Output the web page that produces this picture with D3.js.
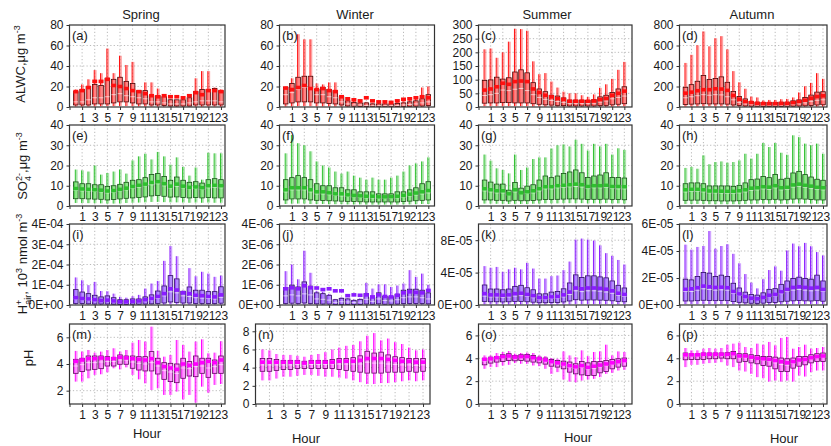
<!DOCTYPE html>
<html>
<head>
<meta charset="utf-8">
<script src="https://cdn.jsdelivr.net/npm/d3@7"></script>
<style>
  body { margin: 0; background: #fff; }
  svg text { font-family: "Liberation Sans", Arial, sans-serif; fill: #1a1a1a; }
</style>
</head>
<body>
<svg id="chart" width="831" height="446"></svg>
<script>
// ---------- categories ----------
const hours = [0,1,2,3,4,5,6,7,8,9,10,11,12,13,14,15,16,17,18,19,20,21,22,23];
const hourTicks = [-1,1,3,5,7,9,11,13,15,17,19,21,23];
const seasons = ["Spring", "Winter", "Summer", "Autumn"];
const letters = [["a","b","c","d"],["e","f","g","h"],["i","j","k","l"],["m","n","o","p"]];

// ---------- ALWC (µg m-3) ----------
const alwcSpring = {
  hi:   [17,22,27,36,33,57,33,50,41,44,16,24,24,18,12,8,7,10,11,28,35,35,19,17],
  q3:   [15,17,20,22,21,28,27,29,25,23,16,16,11,11,10,7,7,7,9,15,17,17,18,16],
  mean: [15,16,19,25,25,27,21,20,18,16,15,13,11,10,11,10,10,9,11,14,12,16,16,15],
  med:  [5,5,7,9,9,10,12,13,11,10,9,8,5,5,4,3,3,3,4,5,6,6,6,5],
  q1:   [2,2,2,3,3,3,4,5,5,4,3,3,2,2,1.5,1,1,1,1,2,2,2,2,2],
  lo:   [0.5,0.5,0.5,0.6,0.7,0.8,0.9,1,1,0.8,0.6,0.5,0.4,0.4,0.3,0.3,0.2,0.2,0.3,0.4,0.4,0.5,0.5,0.5]
};
const alwcWinter = {
  hi:   [20,28,71,66,66,23,22,24,24,11,8,6,6,5,4,4,4,4,5,6,7,8,19,20],
  q3:   [19,23,29,30,30,17,19,17,16,10,6,4.5,4,4,3,3,3,3,3.5,4,5,6,8,12],
  mean: [18.5,17,19,21,18,17,18,16,15,10,8,7,6,9,6,5,5,4.5,6,7.5,8,9,10,9],
  med:  [12,14,17,19,19,12,12,10,9,5,3,2,2,1.5,1.2,1.2,1.2,1.2,1.5,2,2.5,3,4,5],
  q1:   [3,4,5,5,5,4,4,3.5,3,2,1,0.8,0.6,0.5,0.4,0.4,0.4,0.4,0.5,0.6,0.7,0.8,1,1.5],
  lo:   [0.5,0.6,0.8,0.8,0.8,0.6,0.6,0.5,0.5,0.3,0.2,0.1,0.1,0.1,0.1,0.1,0.1,0.1,0.1,0.1,0.1,0.1,0.2,0.3]
};
const alwcSummer = {
  hi:   [211,214,180,200,239,286,285,279,167,120,124,93,71,56,50,50,43,37,46,70,83,103,136,165],
  q3:   [97,99,109,102,107,128,136,125,89,66,56,43,40,33,25,25,25,24,27,37,43,53,66,74],
  mean: [62,66,74,87,83,93,95,93,66,53,43,37,31,28,21,21,21,21,22,27,31,43,50,58],
  med:  [42,45,50,62,60,65,68,60,45,35,28,24,20,17,13,13,13,13,14,18,22,30,35,40],
  q1:   [14,15,15,16,16,15,15,15,12,10,8,7,6,5,4,4,4,4,4,5,6,8,10,12],
  lo:   [3,3,3,3,3,3,3,3,2,2,1.5,1.2,1,1,0.8,0.8,0.8,0.8,0.8,1,1.2,1.5,2,2.5]
};
const alwcAutumn = {
  hi:   [430,509,602,737,592,671,691,562,350,241,178,102,93,63,69,69,76,79,93,142,202,235,330,275],
  q3:   [192,218,251,307,268,278,294,241,152,102,79,53,46,43,43,43,46,46,60,69,93,116,145,149],
  mean: [135,145,159,169,169,178,175,162,112,76,53,43,36,33,33,33,35,36,42,53,66,86,102,109],
  med:  [90,100,110,120,115,120,118,100,70,45,30,25,20,18,18,18,20,20,25,32,40,55,65,70],
  q1:   [25,28,30,32,30,30,30,28,20,15,10,8,7,6,6,6,6,7,8,10,12,15,20,22],
  lo:   [5,5,5,6,6,6,6,5,4,3,2,2,1.5,1.5,1.5,1.5,1.5,1.5,2,2,3,3,4,4]
};

// ---------- SO4 2- (µg m-3) ----------
const so4Spring = {
  hi:   [18,17.6,17,20,15.5,16.3,17,18,16,22.5,24.5,25.8,23,26.7,24.5,20.4,24,19.3,15,19,13,26.3,26,26],
  q3:   [11.9,11,11,10.5,10.5,9.7,10,10.7,11.7,12.7,13,14,15.6,16,14.6,12.7,14.3,12.7,11.7,12,11.3,13,13.5,13],
  mean: [8.6,8.4,8.2,8,7.8,7.4,7.6,8.2,8.8,9.6,10.2,10.8,11.6,12,11,9.8,10.8,9.8,9.2,9.4,9,10,10.2,10],
  med:  [7.7,7.5,7.4,7.2,7,6.5,6.8,7.4,8,8.8,9.2,10,10.5,11,10,9,9.8,9,8.5,8.6,8.2,9,9.2,9],
  q1:   [3.6,3.6,3.5,3.4,3.3,3,3.2,3.5,3.8,4,4.2,4.5,5,5.2,4.8,4.4,4.5,4.2,4,4.2,4,4.2,4,4],
  lo:   [1.5,1.5,1.4,1.4,1.3,1.2,1.2,1.3,1.5,1.6,1.7,1.8,2,2,1.9,1.8,1.8,1.7,1.6,1.7,1.6,1.7,1.6,1.6]
};
const so4Winter = {
  hi:   [26,35,31,30,27,22,20,19,17,16,17,15,14,13,14,13,13,14,15,17,20,21,22,24],
  q3:   [13,14,15,14,13,11,10,10,9,9,8,8,7,7,7,6,6,6,7,7,8,9,11,12],
  mean: [8,9,9,9,8,7,7,6.5,6,6,5.5,5.2,5,4.8,4.8,4.5,4.5,4.6,4.8,5.2,5.8,6.4,7,7.6],
  med:  [7,8,8,8,7,6,6,5.6,5.2,5,4.8,4.5,4.2,4,4,3.8,3.8,3.9,4,4.4,5,5.5,6,6.5],
  q1:   [3,3.5,3.5,3.5,3,2.8,2.7,2.6,2.5,2.4,2.3,2.2,2.1,2,2,2,2,2,2,2.2,2.4,2.6,2.8,3],
  lo:   [1,1.2,1.2,1.2,1,1,1,0.9,0.9,0.9,0.8,0.8,0.8,0.7,0.7,0.7,0.7,0.7,0.7,0.8,0.8,0.9,1,1]
};
const so4Summer = {
  hi:   [25.4,22.4,18.6,17.8,16.1,25.4,17.8,19,23.2,24,24,28.4,30,30.4,29.4,32.7,30.7,27.4,30.7,29.4,30.7,25.4,28.5,27.7],
  q3:   [12.8,11.8,10.8,10.8,7.8,11.6,8.8,9.8,10.5,12.8,14.8,14,14.8,16.1,16.8,17.8,16.4,14.1,14.8,15.3,16.4,14.1,14.1,13.8],
  mean: [8.5,8,7.5,7.5,6,8,6.5,7,7.5,8.5,9.5,9.5,10,10.2,10.5,10.8,10.5,9.6,10,10,10.2,9.6,9.6,9.5],
  med:  [7.5,7,6.5,6.5,5.5,7,6,6.2,6.5,7.5,8.5,8.5,9,9.2,9.5,9.6,9.4,8.6,9,9,9.2,8.6,8.5,8.5],
  q1:   [3,3,2.8,2.8,2.5,2.8,2.6,2.6,2.7,3,3.2,3.2,3.3,3.4,3.5,3.5,3.4,3.2,3.3,3.3,3.4,3.2,3.2,3.1],
  lo:   [1.2,1.2,1.1,1.1,1,1.1,1,1,1.1,1.2,1.3,1.3,1.3,1.4,1.4,1.4,1.4,1.3,1.3,1.3,1.4,1.3,1.3,1.2]
};
const so4Autumn = {
  hi:   [18.8,19.3,18.4,25,20.6,21.7,22,21.4,21.7,22.5,25.8,23.4,25.8,31.1,29.1,31.1,26.3,25.3,34.9,34,30.8,30,30.8,25.8],
  q3:   [11,11.4,11.4,11,9.9,9.9,9.9,9.9,9.7,10.2,11.4,13,13.3,14.6,14,15.6,13.2,13.7,16.3,17.1,15.5,14.3,13.2,12.7],
  mean: [8,8.2,8.2,8,7.4,7.4,7.3,7.2,7.2,7.5,8,8.8,9,9.5,9.3,10,9,9.2,10.4,10.8,10.2,9.8,9.2,9],
  med:  [7,7.2,7.2,7,6.5,6.5,6.4,6.2,6.2,6.5,7,7.8,8,8.5,8.3,9,8,8.2,9.4,9.8,9.2,8.8,8.2,8],
  q1:   [2.8,2.9,2.9,2.8,2.6,2.6,2.5,2.5,2.5,2.6,2.8,3,3,3.2,3.1,3.3,3,3.1,3.4,3.5,3.4,3.2,3,3],
  lo:   [1,1,1,1,0.9,0.9,0.9,0.9,0.9,0.9,1,1.1,1.1,1.2,1.1,1.2,1.1,1.1,1.2,1.3,1.2,1.2,1.1,1.1]
};

// ---------- H+air (10^3 nmol m-3), stored in units of hairUnit ----------
const hairUnit = [1e-4, 1e-6, 1e-5, 1e-5];
const hairSpring = {
  hi:   [1.36,1.22,0.98,1.14,0.69,0.68,0.56,0.40,0.36,0.43,0.50,0.81,1.06,1.19,2.18,2.91,2.41,0.71,1.82,1.42,1.64,1.55,1.39,1.45],
  q3:   [0.76,0.64,0.56,0.48,0.40,0.45,0.36,0.26,0.26,0.30,0.30,0.40,0.50,0.69,0.94,1.45,1.29,0.68,0.89,0.73,0.73,0.66,0.66,0.90],
  mean: [0.36,0.32,0.30,0.26,0.22,0.24,0.20,0.16,0.16,0.18,0.20,0.26,0.32,0.42,0.56,0.80,0.74,0.60,0.56,0.48,0.46,0.42,0.40,0.50],
  med:  [0.30,0.26,0.24,0.20,0.17,0.19,0.15,0.12,0.12,0.14,0.15,0.20,0.25,0.33,0.45,0.65,0.60,0.45,0.42,0.36,0.34,0.32,0.30,0.38],
  q1:   [0.08,0.07,0.06,0.05,0.05,0.05,0.04,0.03,0.03,0.04,0.04,0.05,0.06,0.08,0.10,0.15,0.13,0.10,0.10,0.08,0.08,0.07,0.07,0.09],
  lo:   [0.02,0.02,0.02,0.01,0.01,0.01,0.01,0.01,0.01,0.01,0.01,0.01,0.02,0.02,0.02,0.03,0.03,0.02,0.02,0.02,0.02,0.02,0.02,0.02]
};
const hairWinter = {
  hi:   [1.67,2.00,1.27,2.68,1.59,0.70,0.65,0.55,0.30,0.38,0.34,0.27,0.32,1.09,0.81,1.02,1.02,0.89,0.96,1.06,1.72,1.39,1.55,1.00],
  q3:   [0.86,0.98,0.89,1.14,0.93,0.60,0.56,0.48,0.26,0.33,0.30,0.23,0.28,0.56,0.36,0.60,0.43,0.41,0.53,0.73,0.78,0.78,0.73,0.60],
  mean: [0.80,0.85,0.80,0.95,0.85,0.84,0.76,0.80,0.70,0.70,0.46,0.50,0.48,0.50,0.40,0.50,0.42,0.40,0.48,0.60,0.65,0.62,0.60,0.72],
  med:  [0.45,0.50,0.45,0.55,0.50,0.30,0.28,0.24,0.13,0.16,0.15,0.12,0.14,0.28,0.18,0.30,0.22,0.20,0.26,0.36,0.40,0.40,0.36,0.30],
  q1:   [0.08,0.09,0.08,0.10,0.08,0.06,0.05,0.05,0.03,0.03,0.03,0.02,0.03,0.05,0.04,0.06,0.04,0.04,0.05,0.07,0.07,0.07,0.07,0.06],
  lo:   [0.02,0.02,0.02,0.02,0.02,0.01,0.01,0.01,0.01,0.01,0.01,0.01,0.01,0.01,0.01,0.01,0.01,0.01,0.01,0.02,0.02,0.02,0.02,0.01]
};
const hairSummer = {
  hi:   [4.8,4.6,4.7,4.1,4.4,4.6,4.4,5.2,4.5,3.26,3.26,3.56,3.64,4.3,5.36,8.07,8.2,8.07,7.95,7.36,6.4,6.07,5.56,5.0],
  q3:   [2.47,1.97,1.97,1.88,1.97,2.3,2.43,2.13,1.88,1.38,1.38,1.59,1.67,2.0,2.72,3.72,3.39,3.6,3.6,3.47,3.35,2.97,2.43,2.1],
  mean: [1.4,1.25,1.25,1.2,1.25,1.4,1.45,1.3,1.15,0.9,0.9,1.0,1.05,1.25,1.6,2.1,2.0,2.1,2.1,2.05,1.95,1.75,1.45,1.3],
  med:  [1.1,1.0,1.0,0.95,1.0,1.1,1.15,1.05,0.9,0.7,0.7,0.8,0.85,1.0,1.3,1.75,1.65,1.75,1.75,1.7,1.6,1.45,1.2,1.05],
  q1:   [0.45,0.4,0.4,0.38,0.4,0.42,0.45,0.4,0.35,0.28,0.28,0.3,0.32,0.38,0.5,0.65,0.6,0.62,0.62,0.6,0.58,0.52,0.45,0.4],
  lo:   [0.08,0.07,0.07,0.07,0.07,0.08,0.08,0.07,0.06,0.05,0.05,0.05,0.06,0.07,0.08,0.1,0.1,0.1,0.1,0.1,0.09,0.08,0.08,0.07]
};
const hairAutumn = {
  hi:   [4.47,4.1,4.3,4.37,5.48,4.17,4.37,4.5,3.79,3.09,2.29,1.66,1.23,1.91,2.59,2.86,2.54,4.04,4.55,4.35,4.6,4.35,3.92,3.67],
  q3:   [1.91,1.86,2.11,2.41,2.36,2.11,2.21,2.11,1.61,1.26,0.95,0.78,0.73,0.9,1.16,1.21,1.53,1.78,1.96,2.06,1.96,1.91,2.21,1.78],
  mean: [1.16,1.2,1.28,1.4,1.35,1.3,1.32,1.28,1.0,0.82,0.62,0.5,0.46,0.56,0.72,0.78,0.98,1.15,1.3,1.35,1.3,1.25,1.3,1.15],
  med:  [1.0,1.0,1.1,1.2,1.15,1.1,1.12,1.1,0.85,0.7,0.52,0.42,0.4,0.48,0.62,0.66,0.84,1.0,1.1,1.15,1.1,1.05,1.1,1.0],
  q1:   [0.3,0.3,0.32,0.35,0.34,0.32,0.33,0.32,0.25,0.2,0.16,0.13,0.12,0.14,0.18,0.19,0.24,0.28,0.31,0.33,0.31,0.3,0.32,0.28],
  lo:   [0.06,0.06,0.06,0.07,0.07,0.06,0.06,0.06,0.05,0.04,0.03,0.03,0.02,0.03,0.03,0.04,0.04,0.05,0.06,0.06,0.06,0.06,0.06,0.05]
};

// ---------- pH ----------
const phSpring = {
  hi:   [4.98,4.93,5.05,4.85,4.93,5.05,5.18,4.93,5.05,5.6,5.8,5.68,6.8,5.0,4.55,4.68,5.8,5.43,4.93,5.68,5.85,4.8,4.85,5.7],
  q3:   [4.35,4.43,4.6,4.6,4.6,4.55,4.5,4.68,4.6,4.6,4.55,4.55,4.93,4.43,4.1,4.05,4.0,4.43,4.18,4.6,4.43,4.43,4.3,4.6],
  mean: [4.2,4.3,4.4,4.4,4.45,4.4,4.4,4.5,4.45,4.4,4.35,4.3,4.4,4.1,3.8,3.7,3.6,4.0,3.9,4.0,4.1,4.2,4.1,4.3],
  med:  [3.85,3.95,4.1,4.1,4.15,4.2,4.2,4.3,4.3,4.15,4.05,4.0,4.1,3.85,3.5,3.4,3.3,3.7,3.65,3.8,3.85,3.7,3.8,3.95],
  q1:   [3.3,3.43,3.55,3.6,3.65,3.85,3.85,3.98,3.98,3.68,3.55,3.48,3.48,3.25,2.85,2.68,2.6,2.93,3.1,3.05,3.3,3.0,3.3,3.3],
  lo:   [2.68,2.68,2.93,3.18,3.23,3.38,3.68,3.6,3.75,3.18,2.85,2.55,2.05,2.18,1.68,1.68,1.93,1.35,1.68,1.1,2.3,1.85,2.43,2.5]
};
const phWinter = {
  hi:   [6.0,5.9,5.5,5.4,5.4,5.3,5.2,5.4,5.5,5.7,6.0,6.2,6.4,6.5,6.9,7.5,7.8,7.0,7.2,6.8,6.6,6.2,5.9,6.0],
  q3:   [5.0,5.0,4.9,4.8,4.8,4.8,4.7,4.8,4.8,4.8,4.9,5.0,5.0,5.1,5.3,5.8,5.6,5.7,5.4,5.2,5.1,5.0,5.0,5.0],
  mean: [4.6,4.6,4.6,4.6,4.6,4.6,4.5,4.6,4.6,4.6,4.6,4.7,4.7,4.7,4.8,5.0,5.0,5.0,4.9,4.8,4.7,4.7,4.6,4.6],
  med:  [4.3,4.3,4.3,4.3,4.3,4.35,4.3,4.35,4.35,4.35,4.4,4.4,4.4,4.4,4.4,4.6,4.5,4.5,4.4,4.35,4.3,4.3,4.25,4.3],
  q1:   [3.6,3.6,3.7,3.8,3.8,3.9,3.9,3.9,3.9,3.9,3.9,3.8,3.7,3.6,3.5,3.4,3.4,3.4,3.5,3.5,3.5,3.6,3.5,3.6],
  lo:   [2.6,2.6,2.8,3.0,3.0,3.1,3.2,3.2,3.1,3.0,3.0,2.9,2.8,2.6,2.4,2.2,2.2,2.3,2.3,2.4,2.5,2.6,2.5,2.6]
};
const phSummer = {
  hi:   [4.25,4.25,4.46,4.55,4.63,4.4,4.46,4.49,4.46,4.25,4.19,4.02,3.96,4.6,4.25,4.1,4.69,4.19,4.55,4.6,5.19,4.25,4.6,4.55],
  q3:   [4.0,4.1,4.16,4.31,4.4,4.25,4.31,4.34,4.25,4.1,4.02,3.9,3.81,3.75,3.67,3.52,3.72,3.6,3.72,3.72,3.81,3.9,3.96,4.02],
  mean: [3.9,3.95,4.05,4.15,4.2,4.1,4.15,4.15,4.05,3.95,3.85,3.7,3.6,3.5,3.35,3.25,3.35,3.2,3.3,3.4,3.5,3.6,3.7,3.8],
  med:  [3.75,3.85,3.95,4.05,4.1,4.0,4.05,4.05,3.95,3.85,3.75,3.6,3.5,3.4,3.2,3.1,3.2,3.05,3.1,3.25,3.35,3.5,3.6,3.7],
  q1:   [3.43,3.58,3.67,3.72,3.81,3.78,3.81,3.75,3.67,3.6,3.49,3.31,3.23,3.08,2.79,2.64,2.55,2.49,2.49,2.73,2.84,3.08,3.23,3.31],
  lo:   [3.08,3.23,3.23,3.37,3.43,3.58,3.52,3.52,3.37,3.31,3.08,2.64,2.79,2.14,1.96,1.9,2.05,2.14,2.2,2.35,2.64,2.73,2.93,2.99]
};
const phAutumn = {
  hi:   [4.9,4.69,4.69,4.84,4.9,4.84,4.9,5.19,5.28,5.37,4.99,4.9,5.28,5.19,5.43,5.13,5.78,5.87,4.84,4.99,5.19,4.84,4.9,4.99],
  q3:   [4.46,4.4,4.4,4.46,4.46,4.46,4.46,4.49,4.6,4.4,4.4,4.31,4.25,4.16,4.16,4.1,4.02,3.96,4.02,4.16,4.16,4.31,4.4,4.46],
  mean: [4.3,4.3,4.3,4.35,4.35,4.35,4.35,4.35,4.4,4.2,4.2,4.1,4.0,3.95,3.9,3.8,3.7,3.6,3.7,3.85,3.9,4.05,4.15,4.2],
  med:  [4.2,4.2,4.2,4.25,4.25,4.25,4.25,4.25,4.3,4.05,4.05,3.95,3.9,3.8,3.75,3.6,3.45,3.4,3.55,3.75,3.8,3.95,4.05,4.1],
  q1:   [3.87,3.9,3.9,3.9,3.96,3.96,4.02,3.96,3.96,3.66,3.72,3.6,3.52,3.37,3.31,3.08,2.84,2.84,3.14,3.31,3.43,3.6,3.72,3.72],
  lo:   [3.23,3.43,3.43,3.52,3.58,3.6,3.66,3.37,3.23,2.93,2.84,2.64,2.35,2.26,1.96,2.05,1.96,2.05,1.96,2.49,2.4,2.79,2.93,2.93]
};

// ---------- y-axis ranges and tick labels ----------
const alwcDomains = [[0,80],[0,80],[0,300],[0,800]];
const alwcTicks = [[0,20,40,60,80],[0,20,40,60,80],[0,50,100,150,200,250,300],[0,200,400,600,800]];
const so4Domains = [[0,40],[0,40],[0,40],[0,40]];
const so4Ticks = [[0,10,20,30,40],[0,10,20,30,40],[0,10,20,30,40],[0,10,20,30,40]];
const hairDomains = [[0,4e-4],[0,4e-6],[0,1e-4],[0,6e-5]];
const hairTicks = [[0,1e-4,2e-4,3e-4,4e-4],[0,1e-6,2e-6,3e-6,4e-6],[0,4e-5,8e-5],[0,2e-5,4e-5,6e-5]];
const phDomains = [[1,7],[0,8.8],[0,7],[0,7]];
const phTicks = [[2,4,6],[0,2,4,6,8],[0,2,4,6],[0,2,4,6]];

// ---------- layout ----------
const colLayout = [
  { l: 69.5,  r: 225,   dmax: 23.64 },
  { l: 279.5, r: 434.5, dmax: 24.0 },
  { l: 478.5, r: 632,   dmax: 24.26 },
  { l: 679.5, r: 827,   dmax: 23.67 }
];
const rowLayout = [
  { t: 25,  b: 107 },
  { t: 125, b: 206 },
  { t: 224, b: 305 },
  { t: 324, b: 404 }
];
const panelOverride = { n: { l: 255.5, r: 430, dmax: 24.0 } };

const palettes = [
  { light: "#ff8484", strong: "#ff1010", dark: "#4a0000" },
  { light: "#8fe88a", strong: "#2fc02f", dark: "#124d12" },
  { light: "#b48cff", strong: "#8a1cff", dark: "#2a0860" },
  { light: "#ff96ff", strong: "#ff00ff", dark: "#5c005c" }
];

const fmtE = v => {
  if (v === 0) return "0E+00";
  const [m, e] = v.toExponential(0).split("e");
  const n = +e;
  return m + "E" + (n < 0 ? "-" : "+") + String(Math.abs(n)).padStart(2, "0");
};

const variables = [
  { sets: [alwcSpring, alwcWinter, alwcSummer, alwcAutumn], domains: alwcDomains, ticks: alwcTicks, unit: [1,1,1,1], fmt: d3.format("d") },
  { sets: [so4Spring, so4Winter, so4Summer, so4Autumn], domains: so4Domains, ticks: so4Ticks, unit: [1,1,1,1], fmt: d3.format("d") },
  { sets: [hairSpring, hairWinter, hairSummer, hairAutumn], domains: hairDomains, ticks: hairTicks, unit: hairUnit, fmt: fmtE },
  { sets: [phSpring, phWinter, phSummer, phAutumn], domains: phDomains, ticks: phTicks, unit: [1,1,1,1], fmt: d3.format("d") }
];

const svg = d3.select("#chart");
const BW = 4.6;

variables.forEach((v, ri) => {
  const pal = palettes[ri];
  seasons.forEach((s, ci) => {
    const letter = letters[ri][ci];
    const col = panelOverride[letter] || colLayout[ci];
    const row = rowLayout[ri];
    const dom = v.domains[ci];
    const u = v.unit[ci];
    const set = v.sets[ci];
    const g = svg.append("g").attr("class", "panel-" + letter);

    const x = d3.scaleLinear().domain([-1, col.dmax]).range([col.l, col.r]);
    const y = d3.scaleLinear().domain(dom).range([row.b, row.t]);

    // dotted grid
    const grid = g.append("g").attr("stroke", "#a8a8a8").attr("stroke-width", 0.8).attr("stroke-dasharray", "1.2,2.2");
    grid.selectAll("line.h").data(v.ticks[ci].filter(t => t > dom[0] && t < dom[1])).join("line")
      .attr("class", "h").attr("x1", col.l).attr("x2", col.r).attr("y1", d => y(d)).attr("y2", d => y(d));
    grid.selectAll("line.v").data(hourTicks.filter(h => h >= 0)).join("line")
      .attr("class", "v").attr("x1", d => x(d)).attr("x2", d => x(d)).attr("y1", row.t).attr("y2", row.b);

    const rows = hours.map((h, i) => ({
      h, hi: set.hi[i] * u, q3: set.q3[i] * u, mean: set.mean[i] * u,
      med: set.med[i] * u, q1: set.q1[i] * u, lo: set.lo[i] * u
    }));

    const boxes = g.append("g").selectAll("g").data(rows).join("g");
    // whiskers: translucent wide stroke + thin solid stroke
    boxes.append("line").attr("x1", d => x(d.h) + 0.8).attr("x2", d => x(d.h) + 0.8)
      .attr("y1", d => y(d.q3)).attr("y2", d => y(Math.max(d.hi, d.q3)))
      .attr("stroke", pal.strong).attr("stroke-opacity", 0.4).attr("stroke-width", 2);
    boxes.append("line").attr("x1", d => x(d.h) - 0.5).attr("x2", d => x(d.h) - 0.5)
      .attr("y1", d => y(d.q3)).attr("y2", d => y(Math.max(d.hi, d.q3)))
      .attr("stroke", pal.strong).attr("stroke-width", 1);
    boxes.append("line").attr("x1", d => x(d.h) + 0.8).attr("x2", d => x(d.h) + 0.8)
      .attr("y1", d => y(d.q1)).attr("y2", d => y(d.lo))
      .attr("stroke", pal.strong).attr("stroke-opacity", 0.4).attr("stroke-width", 2);
    boxes.append("line").attr("x1", d => x(d.h) - 0.5).attr("x2", d => x(d.h) - 0.5)
      .attr("y1", d => y(d.q1)).attr("y2", d => y(d.lo))
      .attr("stroke", pal.strong).attr("stroke-width", 1);
    // interquartile box
    boxes.append("rect")
      .attr("x", d => x(d.h) - BW / 2).attr("width", BW)
      .attr("y", d => y(d.q3)).attr("height", d => Math.max(0.5, y(d.q1) - y(d.q3)))
      .attr("fill", pal.light).attr("stroke", pal.dark).attr("stroke-width", 0.8);
    // saturated strip on the left of each box
    boxes.append("rect")
      .attr("x", d => x(d.h) - BW / 2 + 0.4).attr("width", 1.2)
      .attr("y", d => y(d.q3) + 0.4).attr("height", d => Math.max(0, y(d.q1) - y(d.q3) - 0.8))
      .attr("fill", pal.strong).attr("opacity", 0.55);
    // median
    boxes.append("line")
      .attr("x1", d => x(d.h) - BW / 2).attr("x2", d => x(d.h) + BW / 2)
      .attr("y1", d => y(d.med)).attr("y2", d => y(d.med))
      .attr("stroke", "#ffffff").attr("stroke-opacity", 0.7).attr("stroke-width", 0.9);
    // mean marker
    boxes.append("rect")
      .attr("x", d => x(d.h) - BW / 2 - 0.2).attr("width", BW + 0.4)
      .attr("y", d => y(d.mean) - 1.8).attr("height", 3.6)
      .attr("fill", pal.strong);

    // axes
    const ax = g.append("g").attr("transform", `translate(0,${row.b})`)
      .call(d3.axisBottom(x).tickValues(hourTicks).tickSize(3).tickPadding(3).tickFormat(d => d < 0 ? "" : d));
    const ay = g.append("g").attr("transform", `translate(${col.l},0)`)
      .call(d3.axisLeft(y).tickValues(v.ticks[ci]).tickSize(3).tickPadding(3).tickFormat(v.fmt));
    [ax, ay].forEach(a => {
      a.select(".domain").remove();
      a.selectAll("line").attr("stroke", "#333").attr("stroke-width", 1);
      a.selectAll("text").attr("font-size", 12).attr("fill", "#1a1a1a")
        .style("font-family", "'Liberation Sans', Arial, sans-serif");
    });

    // frame
    g.append("rect").attr("x", col.l).attr("y", row.t)
      .attr("width", col.r - col.l).attr("height", row.b - row.t)
      .attr("fill", "none").attr("stroke", "#333").attr("stroke-width", 1.2);

    // panel letter
    g.append("text").attr("x", col.l + 2.5).attr("y", row.t + 14.5)
      .attr("font-size", 13).text(`(${letter})`);
  });
});

// season titles
const titleX = [141, 355, 547, 752];
svg.selectAll("text.season").data(seasons).join("text")
  .attr("class", "season").attr("x", (d, i) => titleX[i]).attr("y", 19)
  .attr("text-anchor", "middle").attr("font-size", 13).text(d => d);

// x titles
const hourX = [147, 306, 578, 784];
const hourY = [438, 443, 442, 443];
svg.selectAll("text.hour").data(seasons).join("text")
  .attr("class", "hour").attr("x", (d, i) => hourX[i]).attr("y", (d, i) => hourY[i])
  .attr("text-anchor", "middle").attr("font-size", 13).text("Hour");

// y titles
function yTitle(xb, yc, build) {
  const t = svg.append("text").attr("transform", `translate(${xb},${yc}) rotate(-90)`)
    .attr("text-anchor", "middle").attr("font-size", 13);
  build(t);
}
yTitle(25, 64, t => {
  t.append("tspan").text("ALWC,μg m");
  t.append("tspan").attr("dy", -5).attr("font-size", 9).text("-3");
});
yTitle(27, 166, t => {
  t.append("tspan").text("SO");
  t.append("tspan").attr("dy", -5).attr("font-size", 9).text("2-");
  t.append("tspan").attr("dx", -8).attr("dy", 9).attr("font-size", 9).text("4");
  t.append("tspan").attr("dx", 3).attr("dy", -4).text(",μg m");
  t.append("tspan").attr("dy", -5).attr("font-size", 9).text("-3");
});
yTitle(27, 264, t => {
  t.append("tspan").text("H");
  t.append("tspan").attr("dy", -5).attr("font-size", 9).text("+");
  t.append("tspan").attr("dx", -5).attr("dy", 9).attr("font-size", 9).text("air");
  t.append("tspan").attr("dy", -4).text(", 10");
  t.append("tspan").attr("dy", -5).attr("font-size", 9).text("3");
  t.append("tspan").attr("dy", 5).text(" nmol m");
  t.append("tspan").attr("dy", -5).attr("font-size", 9).text("-3");
});
yTitle(33, 358, t => { t.append("tspan").text("pH"); });
</script>
</body>
</html>
